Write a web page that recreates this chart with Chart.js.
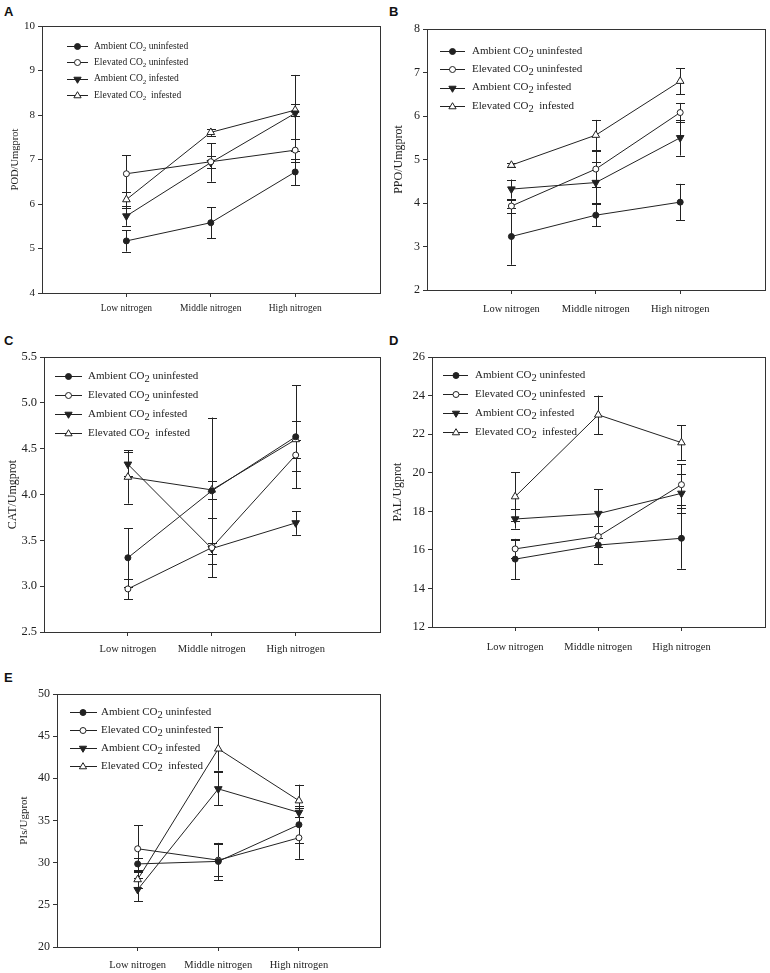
<!DOCTYPE html>
<html>
<head>
<meta charset="utf-8">
<script src="https://cdn.jsdelivr.net/npm/chart.js@4.4.0/dist/chart.umd.min.js"></script>
<style>
  body { margin: 0; background: #fff; }
  #page { position: relative; width: 770px; height: 973px; overflow: hidden; background: #fff; }
  #page canvas { position: absolute; }
  .tag { position: absolute; font: bold 13px "Liberation Sans", Arial, sans-serif; color: #111; }
</style>
</head>
<body>
<div id="page">
  <div class="tag" style="left:4px;top:4px">A</div>
  <div class="tag" style="left:389px;top:4px">B</div>
  <div class="tag" style="left:4px;top:333px">C</div>
  <div class="tag" style="left:389px;top:333px">D</div>
  <div class="tag" style="left:4px;top:670px">E</div>
  <canvas id="chart-a" width="385" height="325" style="left:0;top:0"></canvas>
  <canvas id="chart-b" width="385" height="325" style="left:385px;top:0"></canvas>
  <canvas id="chart-c" width="385" height="330" style="left:0;top:330px"></canvas>
  <canvas id="chart-d" width="385" height="330" style="left:385px;top:330px"></canvas>
  <canvas id="chart-e" width="385" height="308" style="left:0;top:665px"></canvas>
</div>
<script>
const categories = ["Low nitrogen", "Middle nitrogen", "High nitrogen"];
const seriesLabels = [
  "Ambient CO2 uninfested",
  "Elevated CO2 uninfested",
  "Ambient CO2 infested",
  "Elevated CO2  infested",
];

// one row per series, same order as seriesLabels; errors are the bar half-lengths
const podMeans = [
  [5.17, 5.58, 6.72],
  [6.68, 6.95, 7.21],
  [5.73, 6.93, 8.04],
  [6.1, 7.61, 8.11],
];
const podErrors = [
  [0.24, 0.35, 0.3],
  [0.41, 0.13, 0.26],
  [0.22, 0.43, 0.86],
  [0.18, 0.08, 0.13],
];
const podTicks = [4, 5, 6, 7, 8, 9, 10];

const ppoMeans = [
  [3.23, 3.72, 4.02],
  [3.93, 4.78, 6.08],
  [4.32, 4.47, 5.5],
  [4.87, 5.56, 6.8],
];
const ppoErrors = [
  [0.65, 0.26, 0.42],
  [0.15, 0.42, 0.22],
  [0.22, 0.48, 0.41],
  [0.05, 0.35, 0.3],
];
const ppoTicks = [2, 3, 4, 5, 6, 7, 8];

const catMeans = [
  [3.31, 4.04, 4.63],
  [2.97, 3.42, 4.43],
  [4.33, 3.41, 3.69],
  [4.19, 4.05, 4.6],
];
const catErrors = [
  [0.32, 0.8, 0.56],
  [0.11, 0.32, 0.17],
  [0.13, 0.06, 0.13],
  [0.29, 0.1, 0.2],
];
const catTicks = [2.5, 3.0, 3.5, 4.0, 4.5, 5.0, 5.5];

const palMeans = [
  [15.52, 16.25, 16.6],
  [16.05, 16.7, 19.38],
  [17.6, 17.88, 18.93],
  [18.76, 23.0, 21.56],
];
const palErrors = [
  [1.05, 1.0, 1.58],
  [0.45, 0.55, 1.05],
  [0.5, 1.27, 1.0],
  [1.27, 1.0, 0.9],
];
const palTicks = [12, 14, 16, 18, 20, 22, 24, 26];

const pisMeans = [
  [29.85, 30.15, 34.5],
  [31.65, 30.3, 32.95],
  [26.8, 38.75, 35.95],
  [28.0, 43.5, 37.35],
];
const pisErrors = [
  [0.7, 2.2, 2.2],
  [2.8, 1.9, 2.5],
  [1.4, 1.95, 0.5],
  [1.0, 2.6, 1.9],
];
const pisTicks = [20, 25, 30, 35, 40, 45, 50];

const serif = '"Liberation Serif", "Times New Roman", serif';
const ink = "#222";

// marker look per series: filled circle, open circle, filled down-triangle, open triangle
const markers = [
  { style: "circle", fill: ink, radius: 3, rotation: 0 },
  { style: "circle", fill: "#fff", radius: 3, rotation: 0 },
  { style: "triangle", fill: ink, radius: 3.8, rotation: 180 },
  { style: "triangle", fill: "#fff", radius: 3.8, rotation: 0 },
];

function drawMarker(ctx, m, x, y) {
  ctx.save();
  ctx.fillStyle = m.fill;
  ctx.strokeStyle = ink;
  ctx.lineWidth = 1;
  ctx.beginPath();
  if (m.style === "circle") {
    ctx.arc(x, y, m.radius, 0, Math.PI * 2);
  } else {
    const r = m.radius;
    const dir = m.rotation === 180 ? -1 : 1;
    ctx.moveTo(x, y - dir * r);
    ctx.lineTo(x - r * 0.95, y + dir * r * 0.6);
    ctx.lineTo(x + r * 0.95, y + dir * r * 0.6);
    ctx.closePath();
  }
  ctx.fill();
  ctx.stroke();
  ctx.restore();
}

const errorBars = {
  id: "errorBars",
  beforeDatasetsDraw(chart) {
    const ctx = chart.ctx;
    const xs = chart.scales.x;
    const ys = chart.scales.y;
    ctx.save();
    ctx.strokeStyle = ink;
    ctx.lineWidth = 1;
    chart.data.datasets.forEach((ds) => {
      ds.errors.forEach((e, i) => {
        const v = ds.data[i].y;
        const x = Math.round(xs.getPixelForValue(i + 1)) + 0.5;
        const top = ys.getPixelForValue(v + e);
        const bot = ys.getPixelForValue(v - e);
        ctx.beginPath();
        ctx.moveTo(x, top);
        ctx.lineTo(x, bot);
        ctx.moveTo(x - 4.5, Math.round(top) + 0.5);
        ctx.lineTo(x + 4.5, Math.round(top) + 0.5);
        ctx.moveTo(x - 4.5, Math.round(bot) + 0.5);
        ctx.lineTo(x + 4.5, Math.round(bot) + 0.5);
        ctx.stroke();
      });
    });
    ctx.restore();
  },
};

const frameAndLegend = {
  id: "frameAndLegend",
  afterDatasetsDraw(chart) {
    const ctx = chart.ctx;
    const a = chart.chartArea;
    ctx.save();
    ctx.strokeStyle = "#333";
    ctx.lineWidth = 1;
    ctx.strokeRect(Math.round(a.left) + 0.5, Math.round(a.top) + 0.5,
      Math.round(a.right - a.left), Math.round(a.bottom - a.top));
    ctx.restore();
  },
  afterDraw(chart, args, opts) {
    const ctx = chart.ctx;
    ctx.save();
    ctx.fillStyle = ink;
    ctx.textBaseline = "middle";
    chart.data.datasets.forEach((ds, i) => {
      const y = opts.top + i * opts.gap;
      ctx.strokeStyle = ink;
      ctx.lineWidth = 1;
      ctx.beginPath();
      ctx.moveTo(opts.lineFrom, Math.round(y) + 0.5);
      ctx.lineTo(opts.lineTo, Math.round(y) + 0.5);
      ctx.stroke();
      drawMarker(ctx, markers[i], opts.marker, Math.round(y) + 0.5);

      const parts = ds.label.split("CO2");
      let x = opts.textX;
      ctx.font = `${opts.size}px ${serif}`;
      ctx.fillText(parts[0] + "CO", x, y);
      x += ctx.measureText(parts[0] + "CO").width;
      ctx.font = `${opts.subSize}px ${serif}`;
      ctx.fillText("2", x, y + opts.subDrop);
      x += ctx.measureText("2").width;
      ctx.font = `${opts.size}px ${serif}`;
      ctx.fillText(parts[1], x, y);
    });
    ctx.restore();
  },
};

const panels = [
  {
    id: "chart-a", title: "POD/Umgprot", means: podMeans, errors: podErrors, ticks: podTicks,
    yWidth: 42, xHeight: 32, padTop: 26, padRight: 5,
    tickSize: 11, titleSize: 10.5, titlePad: 9, catSize: 9.5, catPad: 10, decimals: 0,
    legend: { top: 46, gap: 16.4, lineFrom: 67, lineTo: 88, marker: 77.5, textX: 94, size: 9.5, subSize: 7, subDrop: 3 },
  },
  {
    id: "chart-b", title: "PPO/Umgprot", means: ppoMeans, errors: ppoErrors, ticks: ppoTicks,
    yWidth: 42, xHeight: 35, padTop: 29, padRight: 5,
    tickSize: 12, titleSize: 12, titlePad: 7, catSize: 10.5, catPad: 13, decimals: 0,
    legend: { top: 51, gap: 18.3, lineFrom: 55, lineTo: 80, marker: 67.5, textX: 87, size: 11, subSize: 10.5, subDrop: 3 },
  },
  {
    id: "chart-c", title: "CAT/Umgprot", means: catMeans, errors: catErrors, ticks: catTicks,
    yWidth: 44, xHeight: 28, padTop: 27, padRight: 3,
    tickSize: 12.5, titleSize: 12, titlePad: 6, catSize: 10.5, catPad: 11, decimals: 1,
    legend: { top: 46, gap: 19, lineFrom: 55, lineTo: 82, marker: 68.5, textX: 88, size: 11, subSize: 10.5, subDrop: 3 },
  },
  {
    id: "chart-d", title: "PAL/Ugprot", means: palMeans, errors: palErrors, ticks: palTicks,
    yWidth: 47, xHeight: 33, padTop: 27, padRight: 3,
    tickSize: 12.5, titleSize: 12, titlePad: 6, catSize: 10.5, catPad: 14, decimals: 0,
    legend: { top: 45, gap: 19, lineFrom: 58, lineTo: 83, marker: 71, textX: 90, size: 11, subSize: 10.5, subDrop: 3 },
  },
  {
    id: "chart-e", title: "PIs/Ugprot", means: pisMeans, errors: pisErrors, ticks: pisTicks,
    yWidth: 57, xHeight: 26, padTop: 29, padRight: 3,
    tickSize: 12, titleSize: 11, titlePad: 18, catSize: 10.5, catPad: 12, decimals: 0,
    legend: { top: 47, gap: 17.9, lineFrom: 70, lineTo: 97, marker: 83, textX: 101, size: 11, subSize: 10.5, subDrop: 3 },
  },
];

Chart.defaults.font.family = serif;
Chart.defaults.color = ink;

panels.forEach((p) => {
  const datasets = p.means.map((row, s) => ({
    label: seriesLabels[s],
    data: row.map((v, i) => ({ x: i + 1, y: v })),
    errors: p.errors[s],
    borderColor: ink,
    borderWidth: 1,
    backgroundColor: markers[s].fill,
    pointBorderColor: ink,
    pointBackgroundColor: markers[s].fill,
    pointStyle: markers[s].style,
    pointRotation: markers[s].rotation,
    pointRadius: markers[s].radius + (markers[s].style === "triangle" ? 0.6 : 0),
    pointBorderWidth: 1,
    tension: 0,
  }));

  new Chart(document.getElementById(p.id), {
    type: "line",
    data: { datasets },
    options: {
      responsive: false,
      animation: false,
      devicePixelRatio: 1,
      layout: { padding: { top: p.padTop, right: p.padRight, left: 0, bottom: 0 } },
      plugins: {
        legend: { display: false },
        tooltip: { enabled: false },
        frameAndLegend: p.legend,
      },
      scales: {
        x: {
          type: "linear",
          min: 0,
          max: 4,
          afterBuildTicks: (scale) => {
            scale.ticks = categories.map((c, i) => ({ value: i + 1 }));
          },
          afterFit: (scale) => { scale.height = p.xHeight; },
          ticks: {
            autoSkip: false,
            maxRotation: 0,
            padding: p.catPad - 4,
            font: { size: p.catSize },
            callback: (v) => categories[v - 1],
          },
          grid: { display: true, drawOnChartArea: false, drawTicks: true, tickLength: 4, color: "#333" },
          border: { display: true, color: "#333" },
        },
        y: {
          type: "linear",
          min: p.ticks[0],
          max: p.ticks[p.ticks.length - 1],
          afterBuildTicks: (scale) => {
            scale.ticks = p.ticks.map((v) => ({ value: v }));
          },
          afterFit: (scale) => { scale.width = p.yWidth; },
          ticks: {
            padding: 3,
            font: { size: p.tickSize },
            callback: (v) => Number(v).toFixed(p.decimals),
          },
          title: {
            display: true,
            text: p.title,
            font: { size: p.titleSize },
            padding: { top: p.titlePad, bottom: 0 },
          },
          grid: { display: true, drawOnChartArea: false, drawTicks: true, tickLength: 4, color: "#333" },
          border: { display: true, color: "#333" },
        },
      },
    },
    plugins: [errorBars, frameAndLegend],
  });
});
</script>
</body>
</html>
